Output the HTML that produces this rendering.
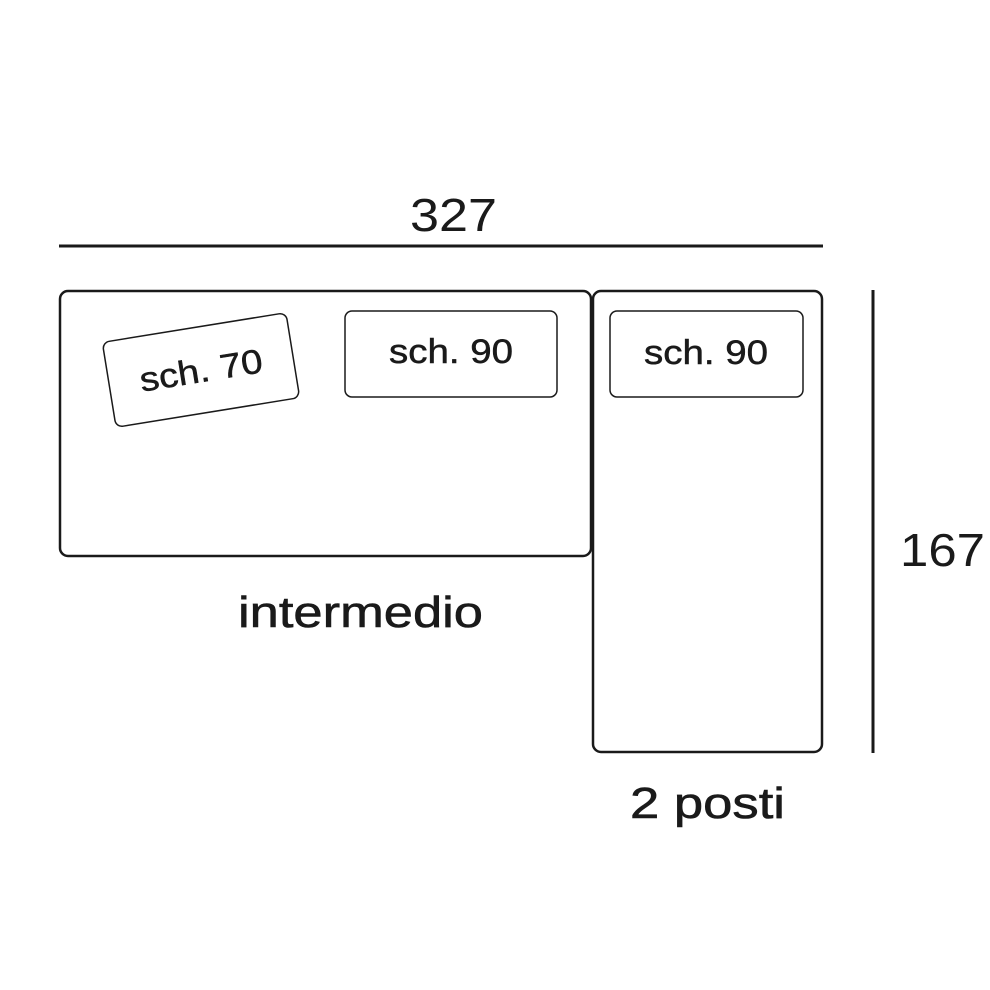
<!DOCTYPE html>
<html><head><style>body{margin:0;background:#fff}svg{display:block}</style></head><body>
<svg width="990" height="990" viewBox="0 0 990 990" xmlns="http://www.w3.org/2000/svg" font-family="Liberation Sans, sans-serif" fill="none" stroke="#1a1a1a">
<text x="410" y="231" font-size="46" fill="#1a1a1a" stroke="none" textLength="87" lengthAdjust="spacingAndGlyphs">327</text>
<line x1="59" y1="246" x2="823" y2="246" stroke-width="3"/>
<line x1="873" y1="290" x2="873" y2="753" stroke-width="3"/>
<text x="900" y="566" font-size="46" fill="#1a1a1a" stroke="none" textLength="85" lengthAdjust="spacingAndGlyphs">167</text>
<rect x="60" y="291" width="531" height="265" rx="8" stroke-width="2.5"/>
<rect x="593" y="291" width="229" height="461" rx="8" stroke-width="2.5"/>
<rect x="345" y="311" width="212" height="86" rx="7" stroke-width="1.5"/>
<rect x="610" y="311" width="193" height="86" rx="7" stroke-width="1.5"/>
<g transform="translate(201,370) rotate(-9.2)">
<rect x="-93" y="-43" width="186" height="86" rx="7" stroke-width="1.5"/>
<text x="-62" y="12" font-size="34" fill="#1a1a1a" stroke="#1a1a1a" stroke-width="0.5" textLength="124" lengthAdjust="spacingAndGlyphs">sch. 70</text>
</g>
<text x="389" y="363" font-size="34" fill="#1a1a1a" stroke="#1a1a1a" stroke-width="0.5" textLength="124" lengthAdjust="spacingAndGlyphs">sch. 90</text>
<text x="644" y="364" font-size="34" fill="#1a1a1a" stroke="#1a1a1a" stroke-width="0.5" textLength="124" lengthAdjust="spacingAndGlyphs">sch. 90</text>
<text x="238" y="627" font-size="44" fill="#1a1a1a" stroke="#1a1a1a" stroke-width="0.6" textLength="245" lengthAdjust="spacingAndGlyphs">intermedio</text>
<text x="630" y="818" font-size="44" fill="#1a1a1a" stroke="#1a1a1a" stroke-width="0.6" textLength="155" lengthAdjust="spacingAndGlyphs">2 posti</text>
</svg>
</body></html>
